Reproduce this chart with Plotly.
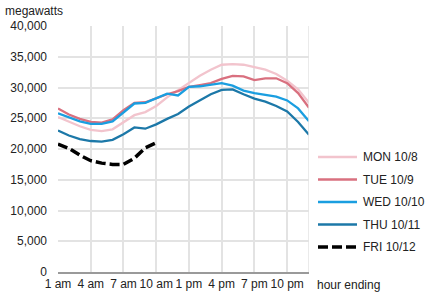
import plotly.graph_objects as go

hours = list(range(1, 25))
tick_vals = [1, 4, 7, 10, 13, 16, 19, 22]
tick_text = ["1 am", "4 am", "7 am", "10 am", "1 pm", "4 pm", "7 pm", "10 pm"]

mon = [25200, 24400, 23700, 23100, 22900, 23200, 24300, 25500, 26000, 27000, 28400, 29600,
       30800, 31900, 32900, 33700, 33800, 33700, 33300, 32900, 32200, 31100, 29700, 27500]
tue = [26600, 25600, 24900, 24400, 24300, 24800, 26300, 27500, 27600, 28300, 28900, 29400,
       30100, 30400, 30700, 31400, 31900, 31800, 31200, 31500, 31500, 30700, 29100, 26700]
wed = [25800, 25100, 24500, 24100, 24100, 24500, 25900, 27400, 27500, 28200, 29000, 28700,
       30100, 30200, 30400, 30700, 30300, 29500, 29100, 28800, 28500, 27900, 26600, 24500]
thu = [23000, 22200, 21600, 21300, 21200, 21500, 22400, 23500, 23300, 24000, 24900, 25700,
       26900, 27900, 28900, 29600, 29700, 28900, 28200, 27700, 27000, 26100, 24400, 22300]
fri = [20800, 20100, 19000, 18100, 17700, 17500, 17500, 18500, 20200, 21000]

names = ["MON 10/8", "TUE 10/9", "WED 10/10", "THU 10/11", "FRI 10/12"]
values = [mon, tue, wed, thu, fri]
colors = ["#f2c4cd", "#d9707f", "#1a9ee0", "#1c78a8", "#000000"]
dashes = ["solid", "solid", "solid", "solid", "10px,4px"]
widths = [2.3, 2.3, 2.3, 2.3, 3.5]

# plot area geometry (px)
W, H = 427, 293
L, R, T, B = 58, 118, 26, 21
PW, PH = W - L - R, H - T - B

def px_x(px):
    return (px - L) / PW

def px_y(py):
    return (H - B - py) / PH

fig = go.Figure()
for name, vals, color, dash, w in zip(names, values, colors, dashes, widths):
    fig.add_trace(go.Scatter(
        x=hours[:len(vals)], y=vals, mode="lines", name=name,
        line=dict(color=color, width=w, dash=dash), showlegend=False,
    ))

txt = dict(family="Liberation Sans, Arial, sans-serif", size=12, color="#222222")

shapes = [
    dict(type="line", xref="x", yref="paper", x0=24, x1=24, y0=0, y1=1,
         line=dict(color="#e3e3e3", width=1.5)),
]
annotations = [
    dict(text="megawatts", xref="paper", yref="paper", x=px_x(3), y=px_y(11),
         xanchor="left", yanchor="middle", showarrow=False, font=txt),
    dict(text="hour ending", xref="paper", yref="paper", x=px_x(315), y=px_y(285),
         xanchor="left", yanchor="middle", showarrow=False, font=txt),
]

# legend drawn manually (longer line samples like the reference)
leg_y = [157, 179.5, 202, 224.5, 247]
for name, color, dash, w, ly in zip(names, colors, dashes, widths, leg_y):
    shapes.append(dict(type="line", xref="paper", yref="paper",
                       x0=px_x(318), x1=px_x(357), y0=px_y(ly), y1=px_y(ly),
                       line=dict(color=color, width=w, dash=dash)))
    annotations.append(dict(text=name, xref="paper", yref="paper",
                            x=px_x(361), y=px_y(ly), xanchor="left", yanchor="middle",
                            showarrow=False, font=txt))

fig.update_layout(
    width=W, height=H,
    margin=dict(l=L, r=R, t=T, b=B, autoexpand=False),
    paper_bgcolor="white", plot_bgcolor="white",
    font=txt,
    showlegend=False,
    xaxis=dict(range=[1, 24], tickvals=tick_vals, ticktext=tick_text, tickangle=0,
               showgrid=True, gridcolor="#e3e3e3", gridwidth=1.5,
               zeroline=False, showline=True, linecolor="#9a9a9a", linewidth=1.5,
               ticks="", tickfont=dict(size=12, color="#222222"), automargin=False),
    yaxis=dict(range=[0, 40000], dtick=5000, tickformat=",d",
               showgrid=True, gridcolor="#e3e3e3", gridwidth=1.5,
               zeroline=False, showline=False, ticks="", automargin=False,
               ticklabelstandoff=10, tickfont=dict(size=12, color="#222222")),
    shapes=shapes,
    annotations=annotations,
)

fig.write_html("out.html", config={"displayModeBar": False},
               post_script="document.body.style.margin='0';document.body.style.padding='0';")
